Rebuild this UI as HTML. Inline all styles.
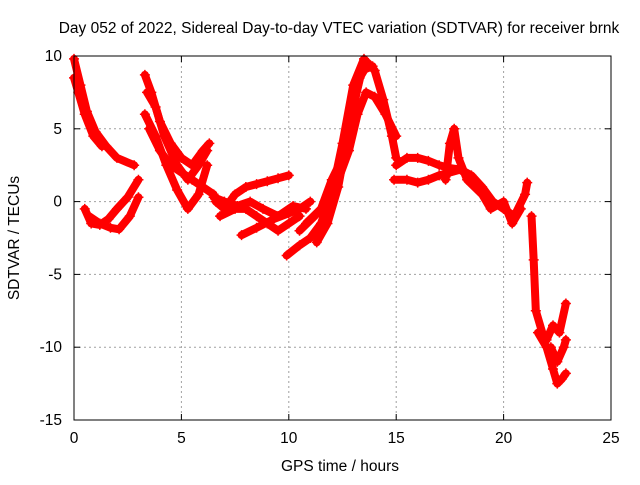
<!DOCTYPE html>
<html><head><meta charset="utf-8"><style>
body{margin:0;background:#fff}
svg text{font-family:"Liberation Sans",sans-serif;font-size:15.5px;fill:#000}
</style></head><body>
<svg id="c" width="640" height="480" xmlns="http://www.w3.org/2000/svg">
<rect width="640" height="480" fill="#fff"/>
<g id="grid"></g><g id="marks"></g><g id="axes"></g>
</svg>
<script>
const xTicks=[0,5,10,15,20,25];
const yTicks=[10,5,0,-5,-10,-15];
const titleText="Day 052 of 2022, Sidereal Day-to-day VTEC variation (SDTVAR) for receiver brnk";
const trackA=[[0,9.8],[0.3,8],[0.6,6.2],[1,4.8],[1.5,3.8],[2,3],[2.8,2.5]];
const trackA2=[[0,8.5],[0.2,7.5],[0.5,6],[0.9,4.5],[1.3,3.8]];
const trackB1=[[0.5,-0.5],[0.8,-1.5],[1.2,-1.6],[1.6,-1.2],[2,-0.5],[2.5,0.3],[3,1.5]];
const trackB2=[[0.7,-1],[1.2,-1.5],[1.7,-1.8],[2.1,-1.9],[2.6,-1],[3,0.3]];
const trackC1=[[3.3,8.7],[3.6,7.5],[4,5.5],[4.5,4],[5,3],[5.5,2.5],[6,3.5],[6.3,4]];
const trackC2=[[3.3,6],[3.8,4.5],[4.3,2.5],[4.8,0.8],[5.3,-0.5],[5.8,0.5],[6.2,2.5]];
const trackC3=[[3.5,5],[4,3.5],[4.5,2.5],[5,2],[5.5,1.5],[6,1],[6.5,0.5]];
const trackC4=[[3.4,7.5],[3.8,6.5],[4.2,4.5],[4.8,2.5],[5.3,1.5],[5.8,2.5],[6.2,3.5]];
const trackD1=[[6.6,0],[7,-0.5],[7.5,0.5],[8,1],[8.5,1.2],[9,1.4],[9.5,1.6],[10,1.8]];
const trackD2=[[6.8,-1],[7.5,-0.5],[8,-0.5],[8.5,-1],[9,-1.5],[9.5,-2],[10,-1.5],[10.5,-1]];
const trackD3=[[7.8,-2.3],[8.5,-1.8],[9.3,-1.2],[10,-0.8],[10.5,-0.5],[11,0]];
const trackD4=[[6.5,0.3],[7,0],[7.6,-0.3],[8.2,0],[8.8,-0.5],[9.5,-1],[10.2,-0.3],[10.8,-0.5]];
const trackE1=[[9.9,-3.7],[10.5,-3],[11,-2.5],[11.5,-1.5],[12,0.5],[12.5,4],[13,8],[13.5,9.8],[14,9],[14.4,7],[14.8,4.5],[15,3]];
const trackE2=[[10.5,-2],[11.2,-1],[11.8,0],[12.3,1.5],[12.8,3.5],[13.2,6],[13.6,7.5],[14,7.2],[14.5,6],[15,4.5]];
const trackE3=[[11.3,-2.8],[11.8,-1.5],[12.3,1],[12.8,5],[13.3,8.5],[13.7,9.5]];
const trackE4=[[10.8,-1.5],[11.5,-0.5],[12,1.5],[12.5,3],[13,6.5],[13.4,9],[13.9,9.3]];
const trackF1=[[14.9,1.5],[15.5,1.5],[16,1.3],[16.5,1.5],[17,1.8],[17.5,2],[18,2.2]];
const trackF2=[[15,2.5],[15.5,3],[16,3],[16.5,2.8],[17,2.5],[17.5,2.3],[18,2.2],[18.5,1.8],[19,1],[19.5,0],[20,-0.5],[20.5,-1],[21,0.5],[21.1,1.3]];
const trackF3=[[17.3,1.5],[17.5,4],[17.7,5],[17.9,3],[18.3,1.5],[19,0.5],[19.4,-0.5],[20,0],[20.4,-1.5],[20.8,-0.5]];
const trackG1=[[21.3,-1],[21.4,-4],[21.5,-7.5],[21.8,-9],[22,-9.5],[22.3,-8.5],[22.6,-9],[22.9,-7]];
const trackG2=[[21.6,-9],[22,-10],[22.3,-11.5],[22.5,-12.5],[22.7,-12.2],[22.9,-11.8]];
const trackG3=[[22.2,-10],[22.5,-11],[22.8,-10],[22.9,-9.5]];
const tracks=[trackA,trackA2,trackB1,trackB2,trackC1,trackC2,trackC3,trackC4,trackD1,trackD2,trackD3,trackD4,trackE1,trackE2,trackE3,trackE4,trackF1,trackF2,trackF3,trackG1,trackG2,trackG3];

const L=74,R=611,T=56,B=420,xMin=0,xMax=25,yMin=-15,yMax=10;
const X=t=>L+(t-xMin)/(xMax-xMin)*(R-L);
const Y=v=>B-(v-yMin)/(yMax-yMin)*(B-T);
const NS="http://www.w3.org/2000/svg";
function mk(tag,at,parent){const e=document.createElementNS(NS,tag);for(const k in at)e.setAttribute(k,at[k]);parent.appendChild(e);return e;}
const grid=document.getElementById('grid'),marks=document.getElementById('marks'),axes=document.getElementById('axes'),svg=document.getElementById('c');

xTicks.forEach(t=>{
  const x=X(t);
  if(t>xMin&&t<xMax){const g=mk('line',{x1:x,x2:x,y1:T,y2:B,stroke:'#a0a0a0','stroke-dasharray':'2,3'},grid);
  
  }
  mk('line',{x1:x,x2:x,y1:B,y2:B-6,stroke:'#000'},axes);
  mk('line',{x1:x,x2:x,y1:T,y2:T+6,stroke:'#000'},axes);
  const tx=mk('text',{x:x,y:B+23,'text-anchor':'middle'},axes);tx.textContent=t;
  
  
});
yTicks.forEach(v=>{
  const y=Y(v);
  if(v>yMin&&v<yMax){const g=mk('line',{x1:L,x2:R,y1:y,y2:y,stroke:'#a0a0a0','stroke-dasharray':'2,3'},grid);
  
  }
  mk('line',{x1:L,x2:L+6,y1:y,y2:y,stroke:'#000'},axes);
  mk('line',{x1:R,x2:R-6,y1:y,y2:y,stroke:'#000'},axes);
  const tx=mk('text',{x:L-12,y:y+5,'text-anchor':'end'},axes);tx.textContent=v;
  
  
});
const frame=mk('rect',{x:L,y:T,width:R-L,height:B-T,fill:'none',stroke:'#000'},axes);



tracks.forEach(tr=>{
  const pl=mk('polyline',{points:tr.map(p=>X(p[0])+','+Y(p[1])).join(' '),fill:'none',stroke:'#ff0000','stroke-width':8,'stroke-linejoin':'round','stroke-linecap':'round'},marks);
  
  
  tr.forEach(p=>{
    const x=X(p[0]),y=Y(p[1]);
    const m=mk('path',{d:`M${x-5},${y}H${x+5}M${x},${y-5}V${y+5}`,stroke:'#ff0000','stroke-width':1.5},marks);
    
    
  });
});

const title=mk('text',{x:339,y:33,'text-anchor':'middle'},svg);title.textContent=titleText;


const xl=mk('text',{x:340,y:471,'text-anchor':'middle'},svg);xl.textContent="GPS time / hours";


const yl=mk('text',{x:0,y:0,'text-anchor':'middle',transform:'translate(19,238) rotate(-90)'},svg);yl.textContent="SDTVAR / TECUs";


</script>
</body></html>
